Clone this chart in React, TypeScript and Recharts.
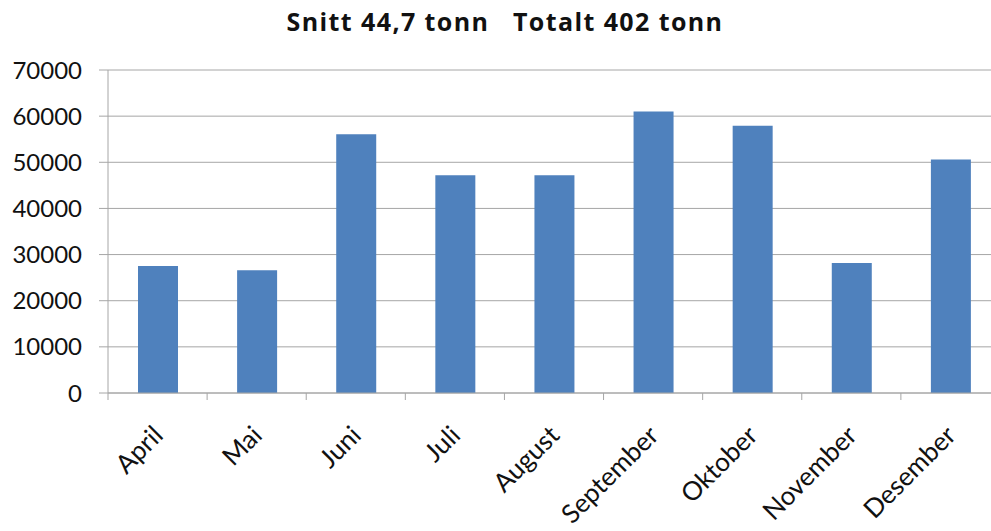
import { BarChart, Bar, XAxis, YAxis, CartesianGrid } from 'recharts';

const months = ['April', 'Mai', 'Juni', 'Juli', 'August', 'September', 'Oktober', 'November', 'Desember'];
const kilos = [27500, 26600, 56100, 47200, 47200, 61000, 57900, 28200, 50600];
const yTicks = [0, 10000, 20000, 30000, 40000, 50000, 60000, 70000];
const title = 'Snitt 44,7 tonn   Totalt 402 tonn';

const data = months.map((month, i) => ({ month, kg: kilos[i] }));

const font = 'Lato, "Open Sans", sans-serif';
const grey = '#a6a6a6';
const ink = '#111';

// category labels rotated 45deg, plus the small tick marks at the category edges
function MonthTick(props: any) {
  const { x, y, payload, width, visibleTicksCount } = props;
  const half = payload.offset ? payload.offset : width / visibleTicksCount / 2;
  const tx = x + 7;
  const ty = y + 44;
  return (
    <g>
      <line x1={x - half} x2={x - half} y1={y} y2={y + 7} stroke={grey} />
      <text
        x={tx}
        y={ty}
        transform={`rotate(-45, ${tx}, ${ty})`}
        textAnchor="end"
        fill={ink}
        fontSize={26}
        fontFamily={font}
      >
        {payload.value}
      </text>
    </g>
  );
}

export default function App() {
  return (
    <div style={{ position: 'absolute', left: 0, top: 0, width: 991, height: 531, overflow: 'hidden', background: '#fff' }}>
      <div
        style={{
          position: 'absolute',
          left: 0,
          top: 8,
          width: 1010,
          textAlign: 'center',
          fontFamily: '"Open Sans", Lato, sans-serif',
          fontWeight: 700,
          fontSize: 25,
          letterSpacing: 1.4,
          lineHeight: '26px',
          whiteSpace: 'pre',
          color: ink,
        }}
      >
        {title}
      </div>
      <BarChart width={1010} height={531} data={data} margin={{ top: 70, right: 10, bottom: 0, left: 0 }}>
        <CartesianGrid vertical={false} stroke={grey} />
        <XAxis
          dataKey="month"
          height={138}
          interval={0}
          axisLine={{ stroke: grey }}
          tickLine={false}
          tickSize={0}
          tickMargin={0}
          tick={<MonthTick />}
        />
        <YAxis
          width={108}
          domain={[0, 70000]}
          ticks={yTicks}
          axisLine={{ stroke: grey }}
          tickLine={{ stroke: grey }}
          tickSize={9}
          tickMargin={17}
          tick={{ fill: ink, fontSize: 24, fontFamily: font }}
        />
        <Bar dataKey="kg" fill="#4f81bd" barSize={40} isAnimationActive={false} />
      </BarChart>
    </div>
  );
}
